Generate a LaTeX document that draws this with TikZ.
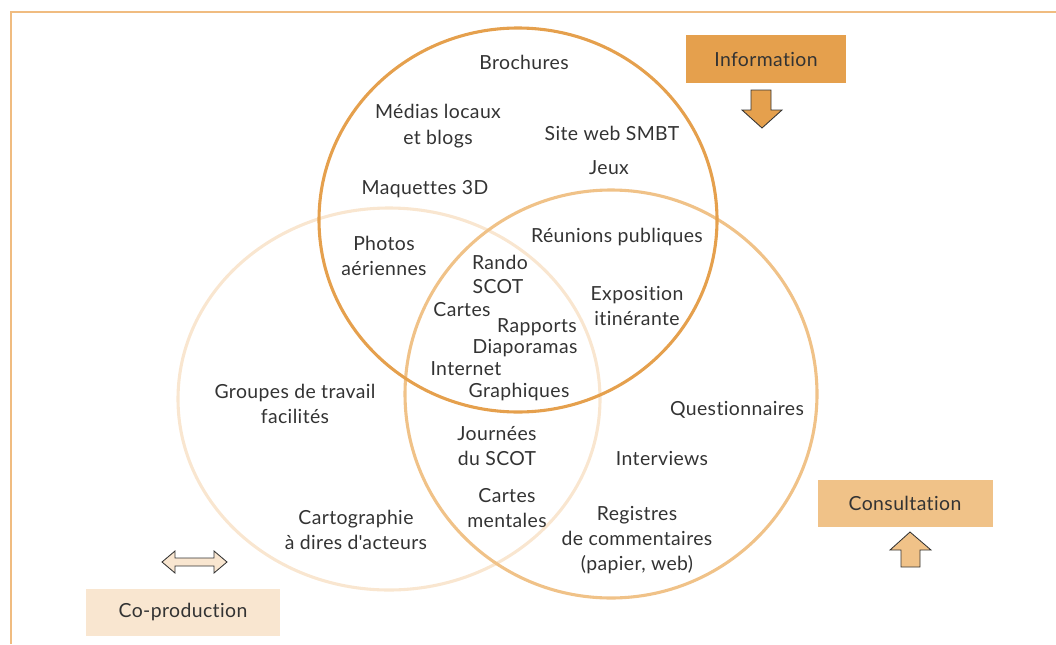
\documentclass[tikz,border=0pt]{standalone}
\usepackage{fontspec}
\setmainfont{Lato}[Ligatures={NoCommon,NoContextual}, LetterSpace=2]
\usepackage{tikz}
\definecolor{infoorange}{HTML}{E5A04D}
\definecolor{consorange}{HTML}{F0C288}
\definecolor{coprodbeige}{HTML}{F9E6D0}
\definecolor{framebeige}{HTML}{F0BC80}
\definecolor{txtgray}{HTML}{333333}
\tikzset{
  lbl/.style={text=txtgray, align=center, font=\fontsize{13.8}{18}\selectfont, inner sep=0pt},
  tag/.style={lbl, minimum height=47*0.025cm},
  fatarrow/.style={draw=black!80, line width=0.6pt, line join=miter}
}
\begin{document}
\begin{tikzpicture}[x=0.025cm, y=-0.025cm]
        \useasboundingbox (0,0) rectangle (1056,644);
        \draw[framebeige, line width=1.5pt] (11,644) -- (11,12) -- (1056,12);

        % the three sets
        \draw[coprodbeige, line width=2.2pt] (389,399) ellipse [x radius=211, y radius=191];
        \draw[consorange, line width=2.2pt] (611,394) ellipse [x radius=206, y radius=204];
        \draw[infoorange, line width=2.2pt] (518,220) ellipse [x radius=199, y radius=192];

        % information
        \node[lbl] (brochures) at (524,62) {Brochures};
        \node[lbl] (medias) at (438,126) {Médias locaux\\et blogs};
        \node[lbl] (siteweb) at (612,133) {Site web SMBT};
        \node[lbl] (jeux) at (609,168) {Jeux};
        \node[lbl] (maquettes) at (425,189) {Maquettes 3D};
        \node[lbl] (photos) at (384,256) {Photos\\aériennes};
        \node[lbl] (reunions) at (617,237) {Réunions publiques};
        \node[lbl] (exposition) at (637,306) {Exposition\\itinérante};

        % centre
        \node[lbl] (rando) at (500,262) {Rando};
        \node[lbl] (scot) at (498,287) {SCOT};
        \node[lbl] (cartes) at (462,310) {Cartes};
        \node[lbl] (rapports) at (537,327) {Rapports};
        \node[lbl] (diaporamas) at (525,348) {Diaporamas};
        \node[lbl] (internet) at (466,369) {Internet};
        \node[lbl] (graphiques) at (519,392) {Graphiques};

        % co-production / consultation
        \node[lbl] (groupes) at (295,404) {Groupes de travail\\facilités};
        \node[lbl] (journees) at (497,446) {Journées\\du SCOT};
        \node[lbl] (mentales) at (507,508) {Cartes\\mentales};
        \node[lbl] (cartographie) at (356,530) {Cartographie\\à dires d\textquotesingle acteurs};
        \node[lbl] (questionnaires) at (737,410) {Questionnaires};
        \node[lbl] (interviews) at (662,458) {Interviews};
        \node[lbl] (registres) at (637,540) {Registres\\de commentaires\\(papier, web)};

        % legend
        \node[tag, fill=infoorange, minimum width=160*0.025cm] (information) at (766,59) {Information};
        \node[tag, fill=consorange, minimum width=175*0.025cm] (consultation) at (905,503) {Consultation};
        \node[tag, fill=coprodbeige, minimum width=194*0.025cm] (coproduction) at (183,612) {Co-production};

        \draw[fatarrow, fill=infoorange] (751,90) -- (771,90) -- (771,110) -- (782,110) -- (762,128) -- (742,110) -- (751,110) -- cycle;
        \draw[fatarrow, fill=consorange] (901,567) -- (920,567) -- (920,550) -- (931,550) -- (910,532) -- (890,550) -- (901,550) -- cycle;
        \draw[fatarrow, fill=coprodbeige] (162,562) -- (175,551) -- (175,558) -- (214,558) -- (214,551) -- (227,562) -- (214,573) -- (214,566) -- (175,566) -- (175,573) -- cycle;
    \end{tikzpicture}
\end{document}
